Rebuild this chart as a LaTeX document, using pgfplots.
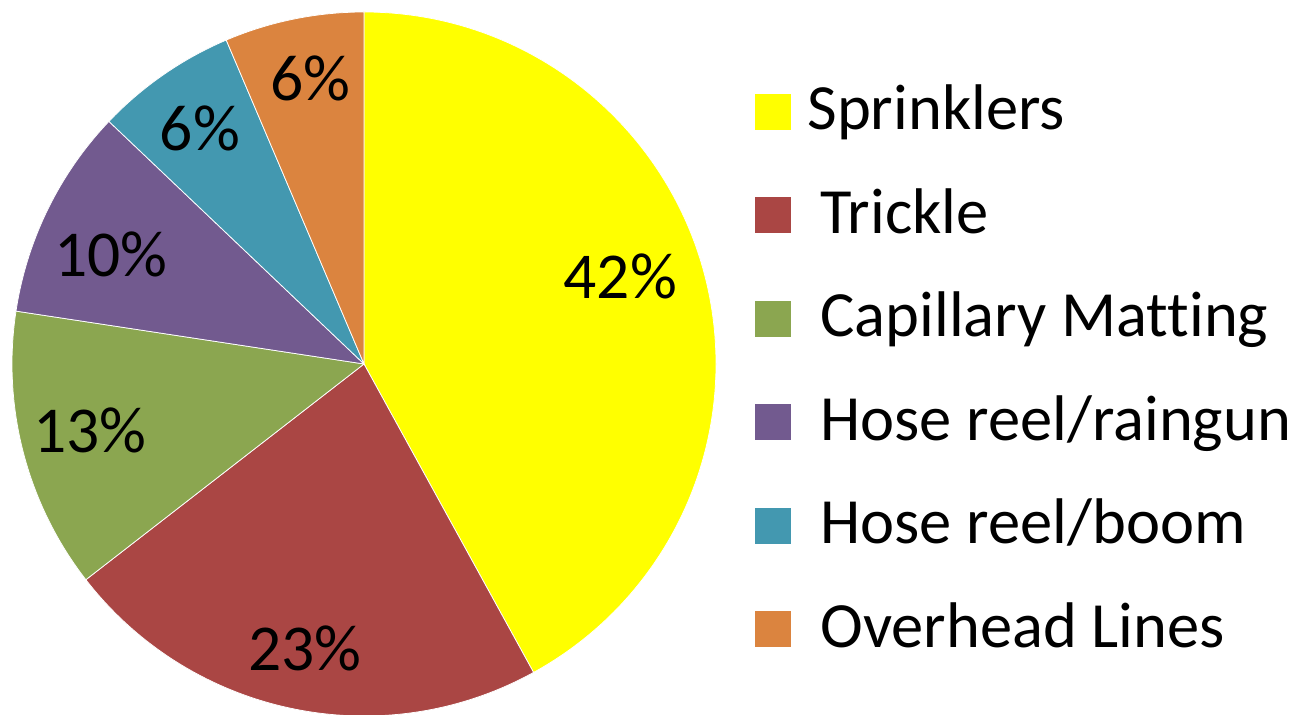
\documentclass[border=0pt]{standalone}
\usepackage{pgfplots}
\pgfplotsset{compat=1.18}
\usepackage{pgfplotstable}
\usepackage{fontspec}
\setmainfont[Ligatures=NoCommon]{Carlito}
\definecolor{cSpr}{HTML}{FFFF00}
\definecolor{cTri}{HTML}{AA4644}
\definecolor{cCap}{HTML}{8BA650}
\definecolor{cRai}{HTML}{725A8F}
\definecolor{cBoo}{HTML}{4398B0}
\definecolor{cOve}{HTML}{DB843F}

\pgfplotstableread[col sep=comma]{
name,value,label,color,lx,ly
Sprinklers,42.0,42,cSpr,0.728,0.250
Trickle,22.5,23,cTri,-0.168,-0.807
Capillary Matting,12.9,13,cCap,-0.778,-0.190
Hose reel/raingun,9.7,10,cRai,-0.719,0.310
Hose reel/boom,6.5,6,cBoo,-0.466,0.668
Overhead Lines,6.4,6,cOve,-0.153,0.810
}\piedata

\begin{document}
\begin{tikzpicture}
\useasboundingbox (0,0) rectangle (517.2pt,286pt);
\begin{axis}[hide axis, scale only axis, width=281.6pt, height=281.6pt,
  xmin=-1, xmax=1, ymin=-1, ymax=1, clip=false,
  at={(145.6pt,140.4pt)}, anchor=origin]
\pgfplotsextra{%
  \xdef\cumsum{0}%
  \foreach \i in {0,...,5}{%
    \pgfplotstablegetelem{\i}{value}\of\piedata \let\sliceval\pgfplotsretval
    \pgfplotstablegetelem{\i}{color}\of\piedata \let\slicecol\pgfplotsretval
    \pgfmathsetmacro\angA{90-3.6*\cumsum}%
    \pgfmathsetmacro\angB{\angA-3.6*\sliceval}%
    \fill[\slicecol, draw=white, line width=0.3pt] (axis cs:0,0) -- (axis cs:{cos(\angA)},{sin(\angA)})
      arc[start angle=\angA, end angle=\angB, radius=140.8pt] -- cycle;
    \pgfmathsetmacro\newcum{\cumsum+\sliceval}%
    \xdef\cumsum{\newcum}%
  }%
  \foreach \i in {0,...,5}{%
    \pgfplotstablegetelem{\i}{label}\of\piedata \let\slicelab\pgfplotsretval
    \pgfplotstablegetelem{\i}{lx}\of\piedata \let\labx\pgfplotsretval
    \pgfplotstablegetelem{\i}{ly}\of\piedata \let\laby\pgfplotsretval
    \node[font=\fontsize{26.2}{30}\selectfont, inner sep=0pt] at (axis cs:\labx,\laby) {\slicelab\%};
  }%
}
\end{axis}
\foreach \i in {0,...,5}{%
  \pgfplotstablegetelem{\i}{name}\of\piedata \let\slicename\pgfplotsretval
  \pgfplotstablegetelem{\i}{color}\of\piedata \let\slicecol\pgfplotsretval
  \pgfmathsetmacro\basey{234-41.4*\i}%
  \ifnum\i=0 \def\tx{322.8}\else\def\tx{328.0}\fi
  \fill[\slicecol] (302pt,\basey pt) rectangle ++(14.4pt,14.4pt);
  \node[anchor=base west, inner sep=0pt, font=\fontsize{25.8}{30}\selectfont] at (\tx pt,\basey pt) {\slicename};
}
\end{tikzpicture}
\end{document}
